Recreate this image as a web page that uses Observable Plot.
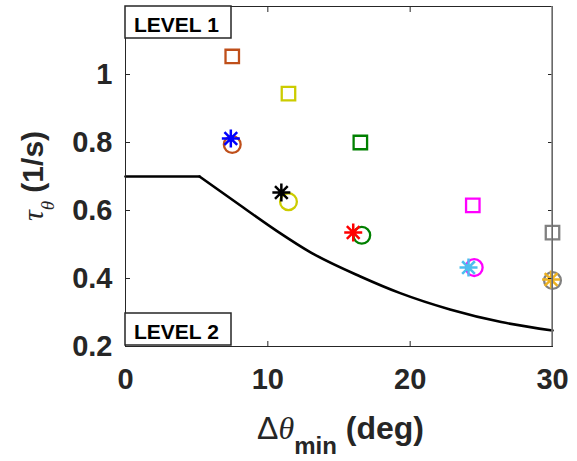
<!DOCTYPE html>
<html><head><meta charset="utf-8">
<script src="https://cdn.jsdelivr.net/npm/d3@7"></script>
<script src="https://cdn.jsdelivr.net/npm/@observablehq/plot@0.6"></script>
<style>body{margin:0;background:#fff}</style>
</head><body><div id="chart"></div>
<script>
// Boundary curve (level 1 / level 2)
const floorX = [0, 5.2];
const floorY = [0.7, 0.7];
const curveX = [5.2, 8.3, 10.7, 13, 16.5, 19.3, 22.8, 26.4, 30];
const curveY = [0.7, 0.608, 0.538, 0.477, 0.406, 0.357, 0.309, 0.272, 0.247];

// Square markers
const squareX = [7.5, 11.45, 16.5, 24.4, 30];
const squareY = [1.053, 0.944, 0.80, 0.615, 0.535];
const squareColors = ["#BF4F1A", "#CCCC00", "#008000", "#FF00FF", "#808080"];

// Circle markers
const circleX = [7.5, 11.45, 16.6, 24.5, 30];
const circleY = [0.794, 0.626, 0.527, 0.432, 0.394];
const circleColors = ["#BF4F1A", "#CCCC00", "#008000", "#FF00FF", "#808080"];

// Asterisk markers
const starX = [7.4, 10.95, 16.0, 24.1, 29.9];
const starY = [0.812, 0.653, 0.535, 0.432, 0.397];
const starColors = ["#0000FF", "#000000", "#FF0000", "#4DBEEE", "#EDB120"];

const xTicks = [0, 10, 20, 30];
const yTicks = [0.2, 0.4, 0.6, 0.8, 1];
const level1 = "LEVEL 1", level2 = "LEVEL 2";

const line = [
  ...floorX.map((x, i) => ({x, y: floorY[i], seg: "a"})),
  ...curveX.map((x, i) => ({x, y: curveY[i], seg: "b"}))
];
const squares = squareX.map((x, i) => ({x, y: squareY[i], c: squareColors[i]}));
const circles = circleX.map((x, i) => ({x, y: circleY[i], c: circleColors[i]}));
const stars = starX.map((x, i) => ({x, y: starY[i], c: starColors[i]}));

const asterisk = {
  draw(ctx, size) {
    const r = Math.sqrt(size / Math.PI), d = r * Math.SQRT1_2;
    ctx.moveTo(0, -r); ctx.lineTo(0, r);
    ctx.moveTo(-r, 0); ctx.lineTo(r, 0);
    ctx.moveTo(-d, -d); ctx.lineTo(d, d);
    ctx.moveTo(-d, d); ctx.lineTo(d, -d);
  }
};

const sans = "'Liberation Sans', Arial, Helvetica, sans-serif";
const serif = "'Liberation Serif', 'DejaVu Serif', serif";
const ink = "#262626";

const chart = Plot.plot({
  width: 577, height: 461,
  marginLeft: 125, marginRight: 25, marginTop: 6, marginBottom: 115,
  style: {fontFamily: sans, fontWeight: "bold", color: ink, background: "#fff", overflow: "visible"},
  x: {domain: [0, 30], label: null},
  y: {domain: [0.2, 1.2], label: null},
  marks: [
    Plot.axisX({ticks: xTicks, tickSize: 0, tickPadding: 22, fontSize: 29, label: null, tickFormat: d => String(d)}),
    Plot.axisY({ticks: yTicks, tickSize: 0, tickPadding: 13, fontSize: 29, label: null, tickFormat: d => String(d)}),
    Plot.line(line, {x: "x", y: "y", z: "seg", stroke: "#000", strokeWidth: 2.6, curve: "monotone-x"}),
    Plot.dot(squares, {x: "x", y: "y", stroke: "c", symbol: "square", r: 7.6, strokeWidth: 2.3}),
    Plot.dot(circles, {x: "x", y: "y", stroke: "c", symbol: "circle", r: 8.4, strokeWidth: 2.3}),
    Plot.dot(stars, {x: "x", y: "y", stroke: "c", symbol: asterisk, r: 9, strokeWidth: 2.5}),
    Plot.frame({stroke: ink, strokeWidth: 1}),
    Plot.axisX({ticks: xTicks, anchor: "bottom", tickSize: -5, tickFormat: () => "", label: null, stroke: ink}),
    Plot.axisX({ticks: xTicks, anchor: "top", tickSize: -5, tickFormat: () => "", label: null, stroke: ink}),
    Plot.axisY({ticks: yTicks, anchor: "left", tickSize: -5, tickFormat: () => "", label: null, stroke: ink}),
    Plot.axisY({ticks: yTicks, anchor: "right", tickSize: -5, tickFormat: () => "", label: null, stroke: ink})
  ]
});
document.getElementById("chart").appendChild(chart);

const svg = d3.select(chart);
const xs = chart.scale("x"), ys = chart.scale("y");
const x0 = xs.apply(0), x30 = xs.apply(30), yTop = ys.apply(1.2), yBot = ys.apply(0.2);

// right border drawn grey as in the reference
svg.append("line").attr("x1", x30).attr("x2", x30).attr("y1", yTop).attr("y2", yBot)
  .attr("stroke", "#808080").attr("stroke-width", 1.5);

// LEVEL boxes
function levelBox(label, top) {
  const g = svg.append("g");
  g.append("rect").attr("x", x0).attr("y", top).attr("width", 106).attr("height", 32)
    .attr("fill", "#fff").attr("stroke", ink).attr("stroke-width", 1.5);
  g.append("text").attr("x", x0 + 9).attr("y", top + 26).attr("text-anchor", "start")
    .attr("fill", "#000").style("font-size", "21px").style("font-weight", "bold")
    .style("font-family", sans).text(label);
}
levelBox(level1, yTop);
levelBox(level2, yBot - 33);

// x label: Δθ_min (deg)
const xl = svg.append("text").attr("x", (x0 + x30) / 2 + 2).attr("y", 439)
  .attr("text-anchor", "middle").attr("fill", ink)
  .style("font-size", "32px").style("font-family", sans).style("font-weight", "bold");
xl.append("tspan").text("Δ").style("font-weight", "normal");
xl.append("tspan").text("θ").style("font-weight", "normal").style("font-style", "italic")
  .style("font-family", serif);
xl.append("tspan").text("min").attr("dy", 15).style("font-size", "24px");
xl.append("tspan").text(" (deg)").attr("dy", -15);

// y label: τ_θ (1/s)
const yl = svg.append("text")
  .attr("transform", `translate(43,${(yTop + yBot) / 2}) rotate(-90)`)
  .attr("text-anchor", "middle").attr("fill", ink)
  .style("font-size", "30px").style("font-family", sans).style("font-weight", "bold");
yl.append("tspan").text("τ").style("font-weight", "normal").style("font-style", "italic")
  .style("font-family", serif);
yl.append("tspan").text("θ").attr("dy", 11).style("font-size", "19px").style("font-weight", "normal")
  .style("font-style", "italic").style("font-family", serif);
yl.append("tspan").text(" (1/s)").attr("dy", -11);
</script>
</body></html>
